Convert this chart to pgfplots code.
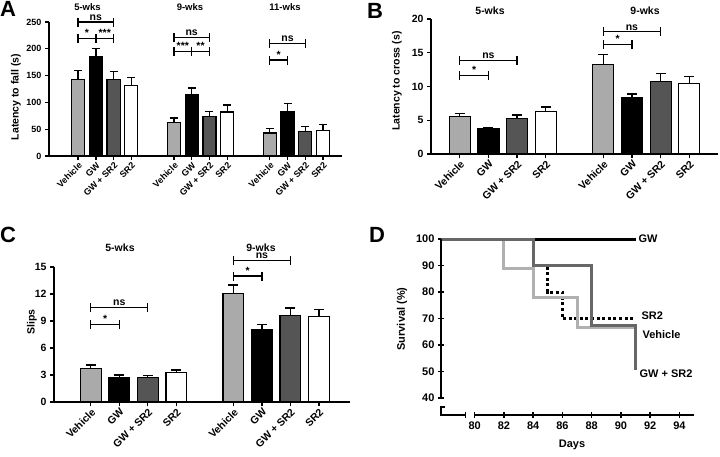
\documentclass[border=0pt]{standalone}
\usepackage{pgfplots}
\pgfplotsset{compat=1.18}
\usepackage{fontspec}
\setmainfont{Liberation Sans}
\definecolor{lg}{HTML}{AAAAAA}
\definecolor{dg}{HTML}{555555}
\definecolor{lgl}{HTML}{B0B0B0}
\definecolor{dgl}{HTML}{676767}
\newcommand\fs[1]{\bfseries\fontsize{#1}{#1}\selectfont}
\pgfplotsset{
 barax/.style={
  scale only axis, axis lines=left, axis line style={-, line width=1.4pt},
  tick align=outside, major tick length=4pt, tick style={line width=1.3pt, black},
  ymin=0, clip=false,
  tick label style={font=\fs{10.5}},
  /pgf/number format/assume math mode=true,
  x tick label style={rotate=45, anchor=north east, inner sep=1pt},
  xticklabels={Vehicle,GW,GW + SR2,SR2,Vehicle,GW,GW + SR2,SR2,Vehicle,GW,GW + SR2,SR2},
  error bars/y dir=plus, error bars/y explicit,
  error bars/error bar style={line width=1.3pt, black},
 },
 br/.style={ybar, bar shift=0pt, draw=black, line width=1.2pt},
}
\newcommand\brk[5]{%
 \draw[line width=1.3pt] (axis cs:#1,#3) -- (axis cs:#2,#3);
 \draw[line width=1.3pt] ([yshift=-4.5pt]axis cs:#1,#3) -- ([yshift=4.5pt]axis cs:#1,#3);
 \draw[line width=1.3pt] ([yshift=-4.5pt]axis cs:#2,#3) -- ([yshift=4.5pt]axis cs:#2,#3);
 \node[above, inner sep=1.5pt, font=\fs{10.5}] at (axis cs:#4,#3) {#5};}
\begin{document}
\begin{tikzpicture}[x=1pt,y=1pt]
\useasboundingbox (0,0) rectangle (720,456);
% ---------------- A
\begin{axis}[barax, at={(49pt,300pt)}, anchor=south west, width=293pt, height=134pt,
  xmin=-1.64, xmax=14.87, ymax=250, ytick={0,50,...,250},
  tick label style={font=\fs{9}},
  xtick={0,1,2,3,5.4,6.4,7.4,8.4,10.8,11.8,12.8,13.8}, bar width=13pt,
  error bars/error mark options={rotate=90, line width=1.3pt, mark size=4pt, black}]
\addplot[br, fill=lg] coordinates {(0,143) +- (0,17) (5.4,62) +- (0,9) (10.8,43) +- (0,8)};
\addplot[br, fill=black] coordinates {(1,185) +- (0,15) (6.4,114) +- (0,13) (11.8,83) +- (0,15)};
\addplot[br, fill=dg] coordinates {(2,143) +- (0,15) (7.4,74) +- (0,9) (12.8,45) +- (0,10)};
\addplot[br, fill=white] coordinates {(3,132) +- (0,15) (8.4,82) +- (0,13) (13.8,48) +- (0,11)};
\brk{0}{2}{250}{1}{ns}
\brk{0}{1}{219}{0.5}{*}
\brk{1}{2}{219}{1.5}{***}
\brk{5.4}{7.4}{221.5}{6.4}{ns}
\brk{5.4}{6.4}{194.6}{5.9}{***}
\brk{6.4}{7.4}{194.6}{6.9}{**}
\brk{10.8}{12.8}{210}{11.8}{ns}
\brk{10.8}{11.8}{179}{11.3}{*}
\end{axis}
% ---------------- B
\begin{axis}[barax, at={(431pt,302pt)}, anchor=south west, width=287pt, height=135pt,
  xmin=-1, xmax=9, ymax=20, ytick={0,5,...,20},
  xtick={0,1,2,3,5,6,7,8}, bar width=21pt,
  error bars/error mark options={rotate=90, line width=1.3pt, mark size=5pt, black}]
\addplot[br, fill=lg] coordinates {(0,5.6) +- (0,0.35) (5,13.3) +- (0,1.4)};
\addplot[br, fill=black] coordinates {(1,3.8) +- (0,0.15) (6,8.3) +- (0,0.6)};
\addplot[br, fill=dg] coordinates {(2,5.3) +- (0,0.5) (7,10.7) +- (0,1.2)};
\addplot[br, fill=white] coordinates {(3,6.35) +- (0,0.6) (8,10.4) +- (0,1.1)};
\brk{0}{2}{13.9}{1}{ns}
\brk{0}{1}{11.65}{0.5}{*}
\brk{5}{7}{18.1}{6}{ns}
\brk{5}{6}{16.2}{5.5}{*}
\end{axis}
% ---------------- C
\begin{axis}[barax, at={(54pt,54pt)}, anchor=south west, width=296pt, height=135pt,
  xmin=-1.29, xmax=9.09, ymax=15, ytick={0,3,...,15},
  xtick={0,1,2,3,5,6,7,8}, bar width=20.7pt,
  error bars/error mark options={rotate=90, line width=1.3pt, mark size=5pt, black}]
\addplot[br, fill=lg] coordinates {(0,3.7) +- (0,0.4) (5,12.1) +- (0,0.9)};
\addplot[br, fill=black] coordinates {(1,2.7) +- (0,0.3) (6,8.0) +- (0,0.6)};
\addplot[br, fill=dg] coordinates {(2,2.7) +- (0,0.25) (7,9.6) +- (0,0.85)};
\addplot[br, fill=white] coordinates {(3,3.3) +- (0,0.25) (8,9.5) +- (0,0.8)};
\brk{0}{2}{10.5}{1}{ns}
\brk{0}{1}{8.6}{0.5}{*}
\brk{5}{7}{15.7}{6}{ns}
\brk{5}{6}{14.0}{5.5}{*}
\end{axis}
% ---------------- D
\begin{axis}[scale only axis, at={(441pt,41pt)}, anchor=south west, width=253pt, height=176pt,
  xmin=77.7, xmax=95.0, ymin=33.6, ymax=100, clip=false,
  axis lines=left, axis line style={draw=none},
  ytick={40,50,...,100}, xtick={80,82,...,94},
  tick style={line width=1.3pt, black},
  major tick length=6pt, tick align=center,
  tick label style={font=\fs{11}},
  /pgf/number format/assume math mode=true]
\addplot[const plot, line width=3pt, black, dash pattern=on 3pt off 2.6pt] coordinates {(77.7,100) (84,90) (85,80) (86,70) (90.9,70)};
\addplot[const plot, line width=3pt, black] coordinates {(77.7,100) (91,100)};
\addplot[const plot, line width=3pt, lgl] coordinates {(77.7,100) (82,88.9) (84,77.8) (87,66.7) (91,66.7)};
\addplot[const plot, line width=3pt, dgl] coordinates {(77.7,100) (84,90) (88,67.5) (91,50.6)};
\draw[line width=1.4pt] (axis cs:77.7,100) -- (axis cs:77.7,40);
\draw[line width=1.4pt] ([xshift=4pt]axis cs:77.7,36.6) -- (axis cs:77.7,36.6) -- (axis cs:77.7,33.6) -- (axis cs:79.38,33.6);
\draw[line width=1.3pt] ([yshift=-3pt]axis cs:79.38,33.6) -- ([yshift=3pt]axis cs:79.38,33.6);
\draw[line width=1.4pt] (axis cs:80,33.6) -- (axis cs:95,33.6);
\end{axis}
% ---------------- texts
\node[font=\fs{22}] at (8,447) {A};
\node[font=\fs{22}] at (375,445) {B};
\node[font=\fs{22}] at (8,221) {C};
\node[font=\fs{22}] at (377,221) {D};
\node[font=\fs{10.5}, rotate=90] at (16,359) {Latency to fall (s)};
\node[font=\fs{10.5}, rotate=90] at (397,375) {Latency to cross (s)};
\node[font=\fs{10.5}, rotate=90] at (32,134) {Slips};
\node[font=\fs{11}, rotate=90] at (402,137) {Survival (\%)};
\node[font=\fs{11}] at (572,11) {Days};
\node[font=\fs{9.5}] at (87.5,448.5) {5-wks};
\node[font=\fs{9.5}] at (190,448.5) {9-wks};
\node[font=\fs{9.5}] at (285,448.5) {11-wks};
\node[font=\fs{10.5}] at (490,445.5) {5-wks};
\node[font=\fs{10.5}] at (645,445.5) {9-wks};
\node[font=\fs{10.5}] at (120,208.5) {5-wks};
\node[font=\fs{10.5}] at (261,208.5) {9-wks};
\node[font=\fs{11}, anchor=west] at (635,217) {GW};
\node[font=\fs{11}, anchor=west] at (638,140) {SR2};
\node[font=\fs{11}, anchor=west] at (639,121) {Vehicle};
\node[font=\fs{11}, anchor=west] at (636,82) {GW + SR2};
\end{tikzpicture}
\end{document}
